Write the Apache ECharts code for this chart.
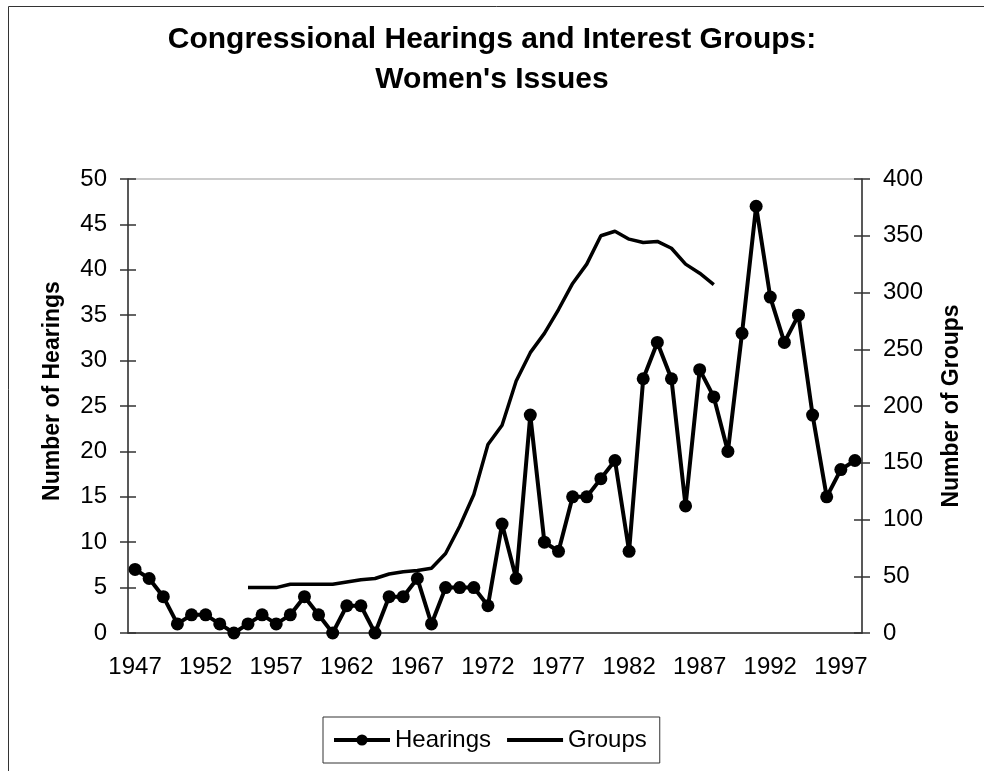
<!DOCTYPE html>
<html>
<head>
<meta charset="utf-8">
<script src="https://cdn.jsdelivr.net/npm/echarts@6/dist/echarts.min.js"></script>
<style>html,body{margin:0;padding:0;background:#fff;}#c{width:984px;height:771px;}</style>
</head>
<body>
<div id="c"></div>
<script>
var years = [];
for (var y = 1947; y <= 1998; y++) years.push(String(y));

var hearings = [7,6,4,1,2, 2,1,0,1,2, 1,2,4,2,0, 3,3,0,4,4, 6,1,5,5,5, 3,12,6,24,10,
  9,15,15,17,19, 9,28,32,28,14, 29,26,20,33,47, 37,32,35,24,15, 18,19];

// Groups: 1955-1988
var groupsYears = ['1955','1956','1957','1958','1959','1960','1961','1962','1963','1964',
  '1965','1966','1967','1968','1969','1970','1971','1972','1973','1974','1975','1976',
  '1977','1978','1979','1980','1981','1982','1983','1984','1985','1986','1987','1988'];
var groupsValues = [40,40,40,43,43,43,43,45,47,48,
  52,54,55,57,70,94,122,166,183,222,247,264,
  285,308,325,350,354,347,344,345,339,325,317,307];

var groups = years.map(function (yr) {
  var i = groupsYears.indexOf(yr);
  return i >= 0 ? groupsValues[i] : '-';
});

var FONT = 'Liberation Sans, Arial, sans-serif';
var chart = echarts.init(document.getElementById('c'), null, {renderer: 'canvas'});
var axisCol = '#333';

chart.setOption({
  backgroundColor: '#fff',
  animation: false,
  textStyle: {fontFamily: FONT},
  title: {
    text: "Congressional Hearings and Interest Groups:\nWomen's Issues",
    left: 'center',
    top: 15,
    textStyle: {fontFamily: FONT, fontSize: 30, fontWeight: 'bold', color: '#000', lineHeight: 40}
  },
  graphic: [{
    type: 'rect',
    shape: {x: 8.5, y: 6.5, width: 1000, height: 800},
    style: {fill: 'none', stroke: '#333', lineWidth: 1},
    silent: true
  }],
  legend: {
    left: 323,
    top: 717,
    orient: 'horizontal',
    itemWidth: 56,
    itemHeight: 14,
    itemGap: 14,
    padding: [11, 13, 11, 9],
    borderColor: '#333',
    borderWidth: 1,
    backgroundColor: '#fff',
    textStyle: {fontFamily: FONT, fontSize: 24, color: '#000'},
    data: [
      {name: 'Hearings', lineStyle: {width: 4, color: '#000'}},
      {name: 'Groups', lineStyle: {width: 4, color: '#000'}, itemStyle: {opacity: 0}}
    ]
  },
  grid: {
    left: 128, right: 122, top: 179, bottom: 138,
    show: true, borderColor: '#999', borderWidth: 1, backgroundColor: 'transparent'
  },
  xAxis: [{
    type: 'category',
    data: years,
    boundaryGap: true,
    axisLine: {lineStyle: {color: axisCol, width: 1.5}},
    axisTick: {interval: 4, length: 8, lineStyle: {color: axisCol, width: 1.5}},
    axisLabel: {interval: 4, margin: 22, fontSize: 24, color: '#000', fontFamily: FONT},
    splitLine: {show: false}
  }, {
    type: 'category',
    data: years,
    boundaryGap: true,
    position: 'bottom',
    axisLine: {show: false},
    axisTick: {interval: 4, inside: true, length: 8, lineStyle: {color: axisCol, width: 1.5}},
    axisLabel: {show: false},
    splitLine: {show: false}
  }],
  yAxis: [{
    type: 'value', min: 0, max: 50, interval: 5, position: 'left',
    name: 'Number of Hearings', nameLocation: 'middle', nameGap: 64, nameRotate: 90,
    nameTextStyle: {fontFamily: FONT, fontSize: 23, fontWeight: 'bold', color: '#000', padding: [0, 0, 0, 30]},
    axisLine: {show: true, lineStyle: {color: axisCol, width: 1.5}},
    axisTick: {show: true, length: 8, lineStyle: {color: axisCol, width: 1.5}},
    axisLabel: {margin: 21, fontSize: 24, color: '#000', fontFamily: FONT},
    splitLine: {show: false}
  }, {
    type: 'value', min: 0, max: 400, interval: 50, position: 'right',
    name: 'Number of Groups', nameLocation: 'middle', nameGap: 78, nameRotate: 90,
    nameTextStyle: {fontFamily: FONT, fontSize: 23, fontWeight: 'bold', color: '#000'},
    axisLine: {show: true, lineStyle: {color: axisCol, width: 1.5}},
    axisTick: {show: true, length: 8, lineStyle: {color: axisCol, width: 1.5}},
    axisLabel: {margin: 21, fontSize: 24, color: '#000', fontFamily: FONT},
    splitLine: {show: false}
  }, {
    type: 'value', min: 0, max: 50, interval: 5, position: 'left',
    axisLine: {show: false},
    axisTick: {show: true, inside: true, length: 8, lineStyle: {color: axisCol, width: 1.5}},
    axisLabel: {show: false},
    splitLine: {show: false}
  }, {
    type: 'value', min: 0, max: 400, interval: 50, position: 'right',
    axisLine: {show: false},
    axisTick: {show: true, inside: true, length: 8, lineStyle: {color: axisCol, width: 1.5}},
    axisLabel: {show: false},
    splitLine: {show: false}
  }],
  series: [{
    name: 'Groups',
    type: 'line',
    yAxisIndex: 1,
    data: groups,
    symbol: 'none',
    showSymbol: false,
    connectNulls: false,
    lineStyle: {color: '#000', width: 3.5},
    itemStyle: {color: '#000'},
    z: 2
  }, {
    name: 'Hearings',
    type: 'line',
    yAxisIndex: 0,
    data: hearings,
    symbol: 'circle',
    symbolSize: 13,
    showSymbol: true,
    showAllSymbol: true,
    lineStyle: {color: '#000', width: 4},
    itemStyle: {color: '#000'},
    z: 3
  }]
});
</script>
</body>
</html>
